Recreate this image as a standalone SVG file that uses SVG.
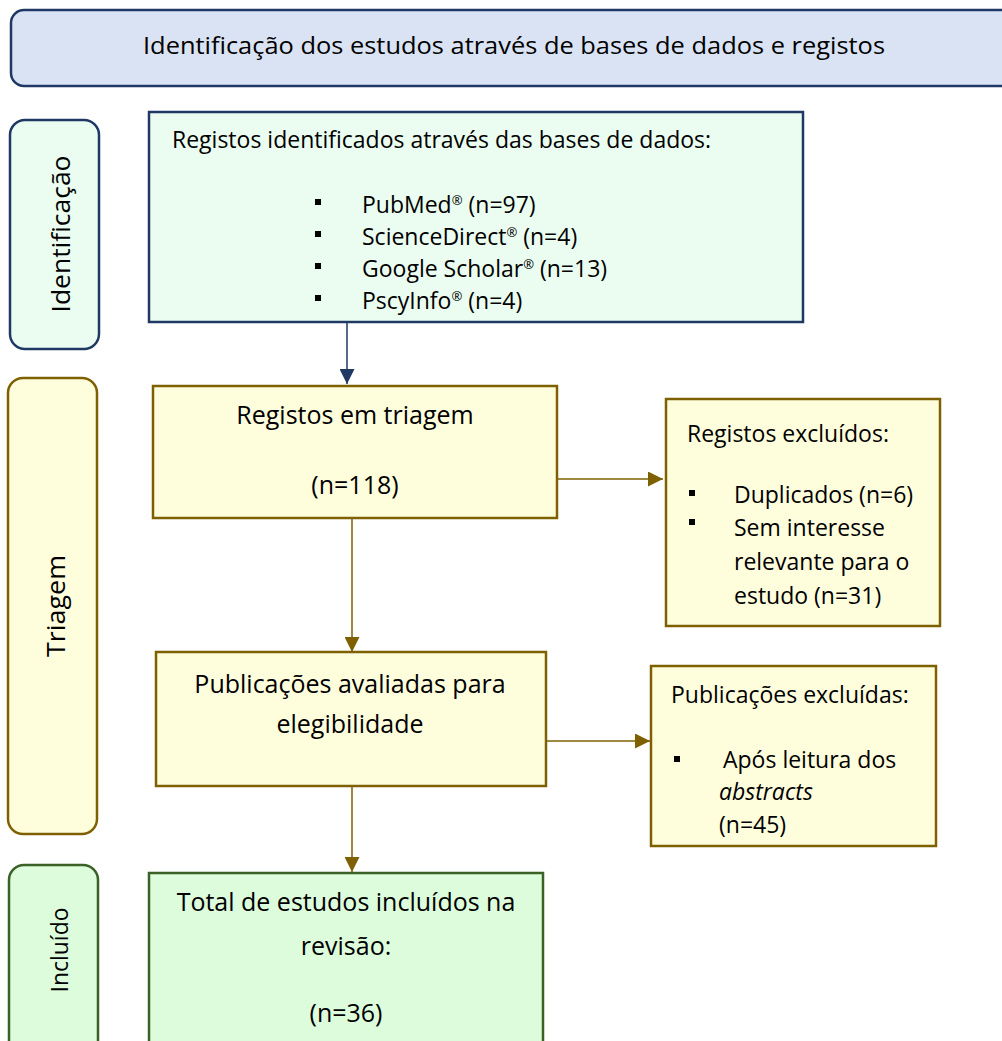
<svg xmlns="http://www.w3.org/2000/svg" width="1002" height="1041" viewBox="0 0 1002 1041">
<defs>
<style>
text{font-family:"Open Sans","Noto Sans",sans-serif;fill:#000;}
.t{font-size:25px;}
.s{font-size:23px;}
.sup{font-size:13px;}
.navy{stroke:#203864;stroke-width:2.5;}
.brown{stroke:#7f6000;stroke-width:2.5;}
.green{stroke:#3b6126;stroke-width:2.5;}
.c{text-anchor:middle;}
</style>
<marker id="an" viewBox="0 0 10 10" refX="10" refY="5" markerWidth="15" markerHeight="15" markerUnits="userSpaceOnUse" orient="auto"><path d="M0,0L10,5L0,10Z" fill="#203864"/></marker>
<marker id="ab" viewBox="0 0 10 10" refX="10" refY="5" markerWidth="15" markerHeight="15" markerUnits="userSpaceOnUse" orient="auto"><path d="M0,0L10,5L0,10Z" fill="#7f6000"/></marker>
</defs>
<g id="title">
<rect x="11" y="10" width="1010" height="76" rx="13" fill="#dae3f3" class="navy"/>
<text x="514" y="54" class="c" font-size="24" textLength="742" lengthAdjust="spacingAndGlyphs">Identificação dos estudos através de bases de dados e registos</text>
</g>
<g id="side-identificacao">
<rect x="10" y="120" width="89" height="229" rx="15" fill="#ebfdf0" class="navy"/>
<text transform="translate(62,234) rotate(-90)" class="c" font-size="25" y="8" textLength="157" lengthAdjust="spacingAndGlyphs">Identificação</text>
</g>
<g id="side-triagem">
<rect x="8" y="378" width="89" height="456" rx="15" fill="#fffedc" class="brown"/>
<text transform="translate(57,606) rotate(-90)" class="c" font-size="25" y="8" textLength="102" lengthAdjust="spacingAndGlyphs">Triagem</text>
</g>
<g id="side-incluido">
<rect x="9" y="865" width="89" height="200" rx="15" fill="#dcfcdc" class="green"/>
<text transform="translate(60,950) rotate(-90)" class="c" font-size="24" y="8" textLength="85" lengthAdjust="spacingAndGlyphs">Incluído</text>
</g>
<g id="registos-identificados">
<rect x="149" y="112" width="654" height="210" fill="#ebfdf0" class="navy"/>
<text x="172" y="148" class="s">Registos identificados através das bases de dados:</text>
<rect x="315" y="199" width="6" height="6" fill="#000"/>
<rect x="315" y="231" width="6" height="6" fill="#000"/>
<rect x="315" y="263" width="6" height="6" fill="#000"/>
<rect x="315" y="295" width="6" height="6" fill="#000"/>
<text x="362" y="213" class="s">PubMed<tspan class="sup" dy="-8">®</tspan><tspan dy="8"> (n=97)</tspan></text>
<text x="362" y="245" class="s">ScienceDirect<tspan class="sup" dy="-8">®</tspan><tspan dy="8"> (n=4)</tspan></text>
<text x="362" y="277" class="s">Google Scholar<tspan class="sup" dy="-8">®</tspan><tspan dy="8"> (n=13)</tspan></text>
<text x="362" y="309" class="s">PscyInfo<tspan class="sup" dy="-8">®</tspan><tspan dy="8"> (n=4)</tspan></text>
</g>
<g id="registos-triagem">
<rect x="153" y="386" width="404" height="132" fill="#fffedc" class="brown"/>
<text x="355" y="424" class="t c">Registos em triagem</text>
<text x="355" y="494" class="t c">(n=118)</text>
</g>
<g id="registos-excluidos">
<rect x="666" y="399" width="274" height="227" fill="#fffedc" class="brown"/>
<text x="687" y="442" class="s">Registos excluídos:</text>
<rect x="689" y="490" width="6" height="6" fill="#000"/>
<rect x="689" y="519" width="6" height="6" fill="#000"/>
<text x="734" y="503" class="s">Duplicados (n=6)</text>
<text x="734" y="536" class="s">Sem interesse</text>
<text x="734" y="570" class="s">relevante para o</text>
<text x="734" y="604" class="s">estudo (n=31)</text>
</g>
<g id="publicacoes-avaliadas">
<rect x="156" y="652" width="390" height="134" fill="#fffedc" class="brown"/>
<text x="350" y="693" class="t c">Publicações avaliadas para</text>
<text x="350" y="733" class="t c">elegibilidade</text>
</g>
<g id="publicacoes-excluidas">
<rect x="651" y="666" width="285" height="180" fill="#fffedc" class="brown"/>
<text x="671" y="703" class="s">Publicações excluídas:</text>
<rect x="674" y="756" width="6" height="6" fill="#000"/>
<text x="723" y="768" class="s">Após leitura dos</text>
<text x="719" y="800" class="s" font-style="italic">abstracts</text>
<text x="719" y="833" class="s">(n=45)</text>
</g>
<g id="total-incluidos">
<rect x="149" y="873" width="394" height="200" fill="#dcfcdc" class="green"/>
<text x="346" y="911" class="t c">Total de estudos incluídos na</text>
<text x="346" y="955" class="t c">revisão:</text>
<text x="346" y="1022" class="t c">(n=36)</text>
</g>
<g id="connectors" fill="none">
<line x1="347" y1="322" x2="347" y2="384" stroke="#203864" stroke-width="1.5" marker-end="url(#an)"/>
<line x1="557" y1="479" x2="663" y2="479" stroke="#7f6000" stroke-width="1.5" marker-end="url(#ab)"/>
<line x1="352" y1="518" x2="352" y2="652" stroke="#7f6000" stroke-width="1.5" marker-end="url(#ab)"/>
<line x1="546" y1="741" x2="650" y2="741" stroke="#7f6000" stroke-width="1.5" marker-end="url(#ab)"/>
<line x1="352" y1="786" x2="352" y2="872" stroke="#7f6000" stroke-width="1.5" marker-end="url(#ab)"/>
</g>
</svg>
